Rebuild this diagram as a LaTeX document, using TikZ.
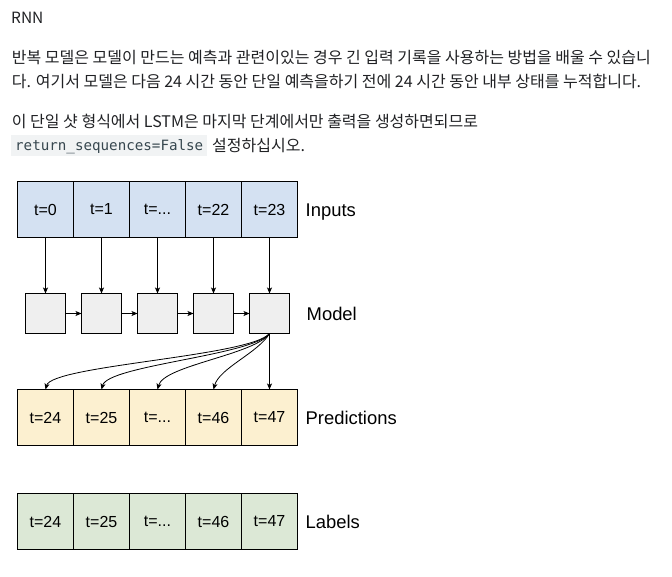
\documentclass[tikz,border=0pt]{standalone}
\usepackage{fontspec}
\usetikzlibrary{positioning,arrows.meta}
\setmainfont{Liberation Sans}
\newfontfamily\kofont{Noto Sans CJK KR}
\newfontfamily\codefont{DejaVu Sans Mono}
\definecolor{inblue}{HTML}{D4E1F2}
\definecolor{predyellow}{HTML}{FCF0D0}
\definecolor{labgreen}{HTML}{DCE8D6}
\definecolor{modelgray}{HTML}{EFEFEF}
\definecolor{bodytext}{HTML}{202124}
\definecolor{codebg}{HTML}{F1F3F4}
\definecolor{codetext}{HTML}{37474F}
\begin{document}
\begin{tikzpicture}[x=1pt,y=-1pt,
  cell/.style={draw, line width=1pt, outer sep=0pt, inner sep=0pt, minimum width=56pt, minimum height=56pt, font=\fontsize{16}{18}\selectfont},
  incell/.style={cell, fill=inblue},
  predcell/.style={cell, fill=predyellow},
  labcell/.style={cell, fill=labgreen},
  rnnbox/.style={draw, line width=1pt, fill=modelgray, outer sep=0pt, minimum size=40pt},
  rowlab/.style={anchor=west, inner sep=0pt, text height=13.2pt, text depth=0pt, font=\fontsize{18.4}{20}\selectfont},
  para/.style={anchor=base west, inner sep=0pt, text=bodytext, font=\kofont\fontsize{16}{18}\selectfont},
  arr/.style={-{Stealth[length=6pt,width=5pt,inset=1.5pt]}, line width=0.8pt}]
\useasboundingbox (0,0) rectangle (672,576);
\node[para, font=\kofont\fontsize{15.5}{18}\selectfont] (title) at (11,23.3) {RNN};
\node[para] (p1a) at (11.7,63.5) {반복 모델은 모델이 만드는 예측과 관련이있는 경우 긴 입력 기록을 사용하는 방법을 배울 수 있습니};
\node[para] (p1b) at (11.7,87.5) {다. 여기서 모델은 다음 24 시간 동안 단일 예측을하기 전에 24 시간 동안 내부 상태를 누적합니다.};
\node[para] (p2a) at (11.7,127) {이 단일 샷 형식에서 LSTM은 마지막 단계에서만 출력을 생성하면되므로};
\fill[codebg] (11,135) rectangle (207.3,155.7);
\node[para, text=codetext, font=\codefont\fontsize{14.2}{16}\selectfont] (code) at (15,150.5) {return\_sequences=False};
\node[para] (p2b) at (212,151.5) {설정하십시오.};

\node[incell] (in0) at (45.5,209.5) {t=0};
\node[incell, right=0pt of in0] (in1) {t=1};
\node[incell, right=0pt of in1] (in2) {t=...};
\node[incell, right=0pt of in2] (in3) {t=22};
\node[incell, right=0pt of in3] (in4) {t=23};
\node[rowlab, right=8pt of in4] (inlab) {Inputs};

\node[rnnbox, below=56pt of in0] (m0) {};
\node[rnnbox, right=16pt of m0] (m1) {};
\node[rnnbox, right=16pt of m1] (m2) {};
\node[rnnbox, right=16pt of m2] (m3) {};
\node[rnnbox, right=16pt of m3] (m4) {};
\node[rowlab, right=17pt of m4] (mlab) {Model};

\node[predcell, below=56pt of m0] (p0) {t=24};
\node[predcell, right=0pt of p0] (p1) {t=25};
\node[predcell, right=0pt of p1] (p2) {t=...};
\node[predcell, right=0pt of p2] (p3) {t=46};
\node[predcell, right=0pt of p3] (p4) {t=47};
\node[rowlab, right=8pt of p4] (plab) {Predictions};

\node[labcell, below=48pt of p0] (l0) {t=24};
\node[labcell, right=0pt of l0] (l1) {t=25};
\node[labcell, right=0pt of l1] (l2) {t=...};
\node[labcell, right=0pt of l2] (l3) {t=46};
\node[labcell, right=0pt of l3] (l4) {t=47};
\node[rowlab, right=8pt of l4] (llab) {Labels};

\draw[arr] (in0) -- (m0);
\draw[arr] (in1) -- (m1);
\draw[arr] (in2) -- (m2);
\draw[arr] (in3) -- (m3);
\draw[arr] (in4) -- (m4);
\draw[arr] (m0) -- (m1);
\draw[arr] (m1) -- (m2);
\draw[arr] (m2) -- (m3);
\draw[arr] (m3) -- (m4);
\draw[arr] (m4.south) to[out=230, in=75, out distance=30pt, in distance=25pt] (p0.north);
\draw[arr] (m4.south) to[out=232, in=75, out distance=28pt, in distance=25pt] (p1.north);
\draw[arr] (m4.south) to[out=235, in=75, out distance=26pt, in distance=25pt] (p2.north);
\draw[arr] (m4.south) to[out=240, in=75, out distance=22pt, in distance=22pt] (p3.north);
\draw[arr] (m4) -- (p4);
\end{tikzpicture}
\end{document}
